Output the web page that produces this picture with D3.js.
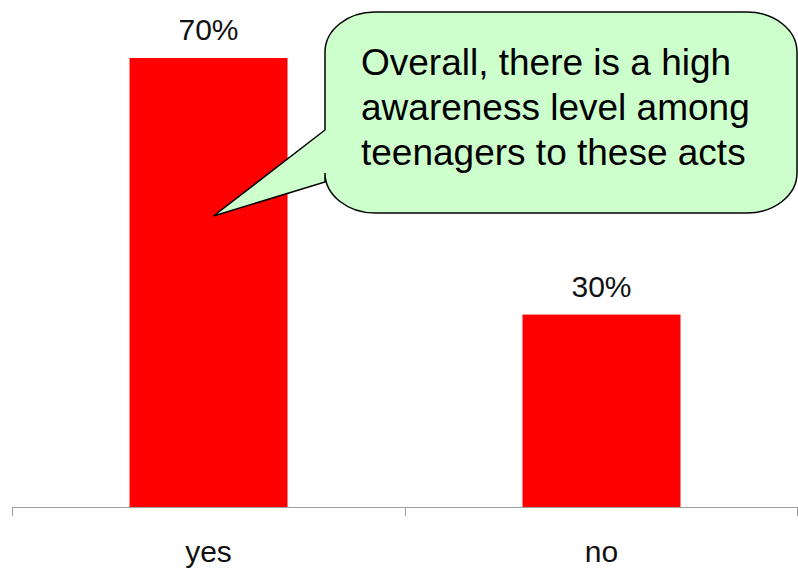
<!DOCTYPE html>
<html>
<head>
<meta charset="utf-8">
<script src="https://cdn.jsdelivr.net/npm/d3@7"></script>
<style>
  html, body { margin: 0; padding: 0; background: #ffffff; }
  svg { display: block; font-family: "Liberation Sans", Arial, sans-serif; }
</style>
</head>
<body>
<svg id="chart" width="798" height="571"></svg>
<script>
const categories = ["yes", "no"];
const values = [70, 30];
const valueLabels = ["70%", "30%"];
const calloutLines = ["Overall, there is a high", "awareness level among", "teenagers to these acts"];

const svg = d3.select("#chart");
const W = 798, H = 571;
const plot = { left: 12, right: 798, top: 58, bottom: 507 };

const x = d3.scaleBand()
  .domain(categories)
  .range([plot.left, plot.right])
  .paddingInner(0.598)
  .paddingOuter(0.299);

const y = d3.scaleLinear()
  .domain([0, d3.max(values)])
  .range([plot.bottom, plot.top]);

// bars
svg.append("g").selectAll("rect")
  .data(values)
  .join("rect")
  .attr("x", (d, i) => x(categories[i]))
  .attr("y", d => y(d))
  .attr("width", x.bandwidth())
  .attr("height", d => y(0) - y(d))
  .attr("fill", "#ff0000");

// value labels
svg.append("g").selectAll("text")
  .data(values)
  .join("text")
  .attr("x", (d, i) => x(categories[i]) + x.bandwidth() / 2)
  .attr("y", d => y(d) - 18)
  .attr("text-anchor", "middle")
  .attr("font-size", 30)
  .attr("fill", "#111")
  .text((d, i) => valueLabels[i]);

// category axis labels
const axis = d3.axisBottom(x).tickSize(0).tickPadding(34);
const gAxis = svg.append("g")
  .attr("transform", `translate(0,${plot.bottom})`)
  .call(axis);
gAxis.select(".domain").remove();
gAxis.selectAll("text")
  .attr("font-size", 30)
  .attr("font-family", "Liberation Sans, Arial, sans-serif")
  .attr("fill", "#111");

// axis line and category boundary ticks
svg.append("line")
  .attr("x1", plot.left).attr("x2", plot.right)
  .attr("y1", plot.bottom + 0.5).attr("y2", plot.bottom + 0.5)
  .attr("stroke", "#a0a0a0").attr("stroke-width", 1);
const boundaries = d3.range(categories.length + 1).map(i => plot.left + i * x.step());
svg.append("g").selectAll("line")
  .data(boundaries)
  .join("line")
  .attr("x1", d => Math.min(d, W - 1) + 0.5).attr("x2", d => Math.min(d, W - 1) + 0.5)
  .attr("y1", plot.bottom).attr("y2", plot.bottom + 9)
  .attr("stroke", "#a0a0a0").attr("stroke-width", 1);

// callout bubble
const bx0 = 325, bx1 = 797, by0 = 12, by1 = 213, rx = 50, ry = 40;
const tipX = x(categories[0]) + x.bandwidth() / 2 + 5, tipY = 216;
const tailTop = 130, tailBot = 182;
const p = d3.path();
p.moveTo(bx0 + rx, by0);
p.lineTo(bx1 - rx, by0);
p.bezierCurveTo(bx1 - rx * 0.45, by0, bx1, by0 + ry * 0.45, bx1, by0 + ry);
p.lineTo(bx1, by1 - ry);
p.bezierCurveTo(bx1, by1 - ry * 0.45, bx1 - rx * 0.45, by1, bx1 - rx, by1);
p.lineTo(bx0 + rx, by1);
p.bezierCurveTo(bx0 + rx * 0.45, by1, bx0, by1 - ry * 0.45, bx0, by1 - ry);
p.lineTo(bx0, tailBot);
p.lineTo(tipX, tipY);
p.lineTo(bx0, tailTop);
p.lineTo(bx0, by0 + ry);
p.bezierCurveTo(bx0, by0 + ry * 0.45, bx0 + rx * 0.45, by0, bx0 + rx, by0);
p.closePath();

svg.append("path")
  .attr("d", p.toString())
  .attr("fill", "#ccffcc")
  .attr("stroke", "#000")
  .attr("stroke-width", 1.5)
  .attr("stroke-linejoin", "miter");

svg.append("g").selectAll("text")
  .data(calloutLines)
  .join("text")
  .attr("x", 361)
  .attr("y", (d, i) => 75 + i * 45)
  .attr("font-size", 37)
  .attr("fill", "#000")
  .text(d => d);
</script>
</body>
</html>
